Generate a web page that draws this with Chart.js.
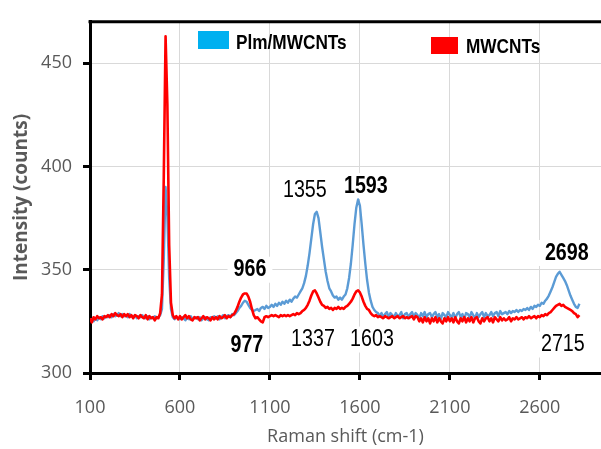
<!DOCTYPE html>
<html>
<head>
<meta charset="utf-8">
<title>Raman spectra</title>
<script src="https://cdn.jsdelivr.net/npm/chart.js@4.4.1/dist/chart.umd.min.js"></script>
<style>
  html, body { margin: 0; padding: 0; background: #fff; }
  canvas { display: block; }
</style>
</head>
<body>
<canvas id="ramanChart" width="601" height="449"></canvas>
<script>
// Raman shift (cm-1), one point every 10 cm-1
const ramanShift = [
  100, 110, 120, 130, 140, 150, 160, 170, 180, 190,
  200, 210, 220, 230, 240, 250, 260, 270, 280, 290,
  300, 310, 320, 330, 340, 350, 360, 370, 380, 390,
  400, 410, 420, 430, 440, 450, 460, 470, 480, 490,
  500, 510, 520, 530, 540, 550, 560, 570, 580, 590,
  600, 610, 620, 630, 640, 650, 660, 670, 680, 690,
  700, 710, 720, 730, 740, 750, 760, 770, 780, 790,
  800, 810, 820, 830, 840, 850, 860, 870, 880, 890,
  900, 910, 920, 930, 940, 950, 960, 970, 980, 990,
  1000, 1010, 1020, 1030, 1040, 1050, 1060, 1070, 1080, 1090,
  1100, 1110, 1120, 1130, 1140, 1150, 1160, 1170, 1180, 1190,
  1200, 1210, 1220, 1230, 1240, 1250, 1260, 1270, 1280, 1290,
  1300, 1310, 1320, 1330, 1340, 1350, 1360, 1370, 1380, 1390,
  1400, 1410, 1420, 1430, 1440, 1450, 1460, 1470, 1480, 1490,
  1500, 1510, 1520, 1530, 1540, 1550, 1560, 1570, 1580, 1590,
  1600, 1610, 1620, 1630, 1640, 1650, 1660, 1670, 1680, 1690,
  1700, 1710, 1720, 1730, 1740, 1750, 1760, 1770, 1780, 1790,
  1800, 1810, 1820, 1830, 1840, 1850, 1860, 1870, 1880, 1890,
  1900, 1910, 1920, 1930, 1940, 1950, 1960, 1970, 1980, 1990,
  2000, 2010, 2020, 2030, 2040, 2050, 2060, 2070, 2080, 2090,
  2100, 2110, 2120, 2130, 2140, 2150, 2160, 2170, 2180, 2190,
  2200, 2210, 2220, 2230, 2240, 2250, 2260, 2270, 2280, 2290,
  2300, 2310, 2320, 2330, 2340, 2350, 2360, 2370, 2380, 2390,
  2400, 2410, 2420, 2430, 2440, 2450, 2460, 2470, 2480, 2490,
  2500, 2510, 2520, 2530, 2540, 2550, 2560, 2570, 2580, 2590,
  2600, 2610, 2620, 2630, 2640, 2650, 2660, 2670, 2680, 2690,
  2700, 2710, 2720, 2730, 2740, 2750, 2760, 2770, 2780, 2790,
  2800, 2810, 2820
];

// Plm/MWCNTs intensity (counts)
const plmMwcnts = [
  325.5, 326, 325, 326.5, 325.5, 327, 326, 327.5, 326.5, 327.5,
  327, 328, 327, 328.5, 327.5, 328, 329, 327.5, 328.5, 327.5,
  328, 327, 328.5, 327.5, 327, 328, 326.5, 327.5, 327, 328,
  327, 326.5, 327.5, 326, 327, 326.5, 327.5, 326.5, 327, 328,
  331, 355, 390, 376, 346, 331, 327, 326, 327, 326.5,
  326, 327, 326.5, 325.5, 327, 326, 327.5, 326, 326.5, 327,
  326, 327, 325.5, 326.5, 327, 326, 325.5, 327, 326.5, 327.5,
  326.5, 327.5, 326, 327, 328, 326.5, 327.5, 328, 327, 328.5,
  328, 329, 330, 331.5, 332.5, 334, 335, 334.5, 333, 331.5,
  330.5, 330, 330.5, 331, 330, 331.5, 332, 331, 332.5, 331.5,
  332, 333, 332, 333.5, 332.5, 334, 333, 334.5, 333.5, 335,
  334, 335.5, 334.5, 336, 337, 336.5, 338, 339.5, 341, 343.5,
  347, 352, 358, 365, 372, 377, 378, 375, 368, 361,
  355, 349, 344.5, 341, 339.5, 337.5, 336.5, 337, 335.5, 336.5,
  335.5, 337, 338, 341, 346, 353, 362, 372, 380, 384,
  381, 372, 362, 353, 345, 339, 335, 332, 330.5, 329.5,
  329, 327.5, 329, 327, 328.5, 329.5, 327, 329, 328, 327,
  329, 327.5, 328, 329.5, 326.5, 328.5, 329, 327, 328.5, 329.5,
  327, 329, 328, 326.5, 329, 327.5, 329.5, 327, 328.5, 329,
  327, 328.5, 329.5, 327, 328.5, 326, 329, 328, 327, 329.5,
  328, 327, 329, 326.5, 328.5, 329.5, 327, 328.5, 326, 329,
  328.5, 327, 329.5, 328, 326.5, 329, 327, 328.5, 329.5, 327,
  329, 327.5, 328, 329.5, 327.5, 329, 329.5, 327.5, 330, 328.5,
  329, 329.5, 328.5, 330, 329, 330, 329.5, 330.5, 329.5, 330.5,
  330, 331, 330.5, 331.5, 330.5, 332, 331, 332.5, 332, 333,
  332.5, 334, 333.5, 335, 336, 337.5, 339.5, 341.5, 344, 346.5,
  348, 349, 347.5, 346, 344.5, 342.5, 340, 337.5, 335.5, 333.5,
  332, 331.5, 333.5
];

// MWCNTs intensity (counts)
const mwcnts = [
  326.5, 324.5, 327, 326, 327.5, 326.5, 327, 326, 327.5, 327,
  328, 327, 328.5, 327.5, 329, 328, 327.5, 328.5, 327, 328.5,
  327.5, 328.5, 327, 328, 326.5, 328, 327.5, 326.5, 328, 327,
  326.5, 328, 326, 327.5, 326.5, 327, 325.5, 327, 326.5, 329,
  338, 395, 463, 430, 362, 334, 328, 326.5, 327.5, 326,
  327.5, 326, 327, 328, 326.5, 327.5, 326, 325.5, 327, 326.5,
  327, 325.5, 326.5, 327.5, 326, 327, 326.5, 325.5, 327, 326,
  327, 326, 327.5, 326.5, 327, 328, 326.5, 327.5, 327, 328,
  328.5, 330, 332, 334.5, 336.5, 338, 338.5, 338.5, 337, 334.5,
  331, 328, 326.5, 327, 326, 325, 324.5, 327, 327.5, 327,
  327.5, 328, 327.5, 328, 327.5, 327, 328, 327.5, 328, 327.5,
  328, 327.5, 328, 328.5, 328, 329, 328.5, 329, 330, 330.5,
  331.5, 333, 335, 337.5, 339.5, 340, 338.5, 336.5, 334.5, 333,
  332.5, 331.5, 332, 331, 331.5, 330.5, 331.5, 331, 332, 331,
  331.5, 331, 332, 332.5, 333.5, 334.5, 336, 338, 339.5, 340,
  339, 337, 334.5, 332.5, 331, 330.5, 329, 328, 327.5, 328,
  327, 327.5, 327, 326.5, 327.5, 327, 326.5, 327, 327.5, 326.5,
  327, 327.5, 326.5, 327, 327.5, 326.5, 327, 326.5, 327, 327.5,
  326, 327.5, 327, 325, 326.5, 324.5, 327, 325, 326.5, 324,
  326.5, 325, 327, 324.5, 326.5, 325, 324, 326.5, 325, 327,
  325, 326.5, 324.5, 327, 325, 324, 326.5, 325, 327, 324.5,
  326.5, 325, 327, 324.5, 326.5, 327, 325, 324, 326.5, 325,
  326.5, 327, 325, 326.5, 324.5, 327, 326, 325, 327, 325.5,
  326.5, 325.5, 326, 327, 325, 326.5, 326, 327, 326, 326.5,
  327, 326, 327, 326.5, 327.5, 326.5, 327, 327.5, 326.5, 327.5,
  327, 328, 327.5, 328.5, 328, 329, 329.5, 330.5, 331.5, 332.5,
  333, 333.5, 332.5, 333, 332, 331.5, 331, 330.5, 330, 329,
  328.5, 327, 328
];

const xTicks = [100, 600, 1100, 1600, 2100, 2600];
const yTicks = [300, 350, 400, 450];

// peak labels, anchored in data units (shift, counts)
const peakLabels = [
  { text: '966',  x: 989,  y: 350,   bold: true },
  { text: '977',  x: 972,  y: 313.3, bold: true },
  { text: '1355', x: 1294, y: 388.6, bold: false },
  { text: '1593', x: 1633, y: 390.5, bold: true },
  { text: '1337', x: 1339, y: 316.2, bold: false },
  { text: '1603', x: 1667, y: 316.2, bold: false },
  { text: '2698', x: 2750, y: 358.1, bold: true },
  { text: '2715', x: 2728, y: 313.8, bold: false }
];

const axisGray = '#595959';
const gridGray = '#d9d9d9';
const tickFont = { family: 'Open Sans', size: 18 };
const labelFamily = '"Liberation Sans", Arial, sans-serif';
const narrow = 0.82; // squeeze Arial into an Arial Narrow look

function toPoints(ys) {
    return ys.map((v, i) => ({ x: ramanShift[i], y: v }));
}

function narrowText(ctx, text, px, py) {
    ctx.save();
    ctx.translate(px, py);
    ctx.scale(narrow, 1);
    ctx.fillText(text, 0, 0);
    ctx.restore();
}

const decorPlugin = {
    id: 'decor',
    beforeDatasetsDraw(chart) {
        // white text boxes behind the peak labels hide the grid, like in the original
        const { ctx, scales: { x, y } } = chart;
        ctx.save();
        ctx.fillStyle = '#fff';
        peakLabels.forEach(p => {
            ctx.font = `${p.bold ? 'bold ' : ''}24px ${labelFamily}`;
            const w = ctx.measureText(p.text).width * narrow;
            const cx = x.getPixelForValue(p.x);
            const cy = y.getPixelForValue(p.y);
            ctx.fillRect(cx - w / 2 - 6, cy - 13, w + 12, 26);
        });
        ctx.restore();
    },
    afterDraw(chart) {
        const { ctx, chartArea, scales: { x, y } } = chart;
        ctx.save();

        // top frame line
        ctx.strokeStyle = '#000';
        ctx.lineWidth = 3;
        ctx.beginPath();
        ctx.moveTo(chartArea.left - 1.5, chartArea.top);
        ctx.lineTo(chartArea.right, chartArea.top);
        ctx.stroke();

        // peak labels
        ctx.fillStyle = '#000';
        ctx.textAlign = 'center';
        ctx.textBaseline = 'middle';
        peakLabels.forEach(p => {
            ctx.font = `${p.bold ? 'bold ' : ''}24px ${labelFamily}`;
            narrowText(ctx, p.text, x.getPixelForValue(p.x), y.getPixelForValue(p.y));
        });

        // legend entries, placed freely as in the original
        ctx.textAlign = 'left';
        ctx.textBaseline = 'alphabetic';
        ctx.font = `bold 21px ${labelFamily}`;
        ctx.fillStyle = '#00B0F0';
        ctx.fillRect(198, 31, 31, 18);
        ctx.fillStyle = '#000';
        narrowText(ctx, 'Plm/MWCNTs', 236, 49);
        ctx.fillStyle = '#FF0000';
        ctx.fillRect(431, 37, 27, 17);
        ctx.fillStyle = '#000';
        narrowText(ctx, 'MWCNTs', 466, 53);

        ctx.restore();
    }
};

const ctx = document.getElementById('ramanChart').getContext('2d');
const ramanChart = new Chart(ctx, {
    type: 'line',
    data: {
        datasets: [
            {
                label: 'MWCNTs',
                data: toPoints(mwcnts),
                borderColor: '#FF0000',
                borderWidth: 2.6,
                pointRadius: 0,
                borderJoinStyle: 'round',
                tension: 0
            },
            {
                label: 'Plm/MWCNTs',
                data: toPoints(plmMwcnts),
                borderColor: '#5B9BD5',
                borderWidth: 2.4,
                pointRadius: 0,
                borderJoinStyle: 'round',
                tension: 0
            }
        ]
    },
    options: {
        responsive: false,
        devicePixelRatio: 1,
        animation: false,
        layout: { padding: { top: 16, right: 0, left: 0, bottom: 0 } },
        plugins: {
            legend: { display: false },
            tooltip: { enabled: false }
        },
        scales: {
            x: {
                type: 'linear',
                min: 100,
                max: 2940,
                afterFit: scale => { scale.height = 76; },
                afterBuildTicks: scale => { scale.ticks = xTicks.map(v => ({ value: v })); },
                grid: {
                    color: gridGray,
                    lineWidth: 1,
                    tickLength: 7,
                    tickColor: '#000',
                    tickWidth: 3
                },
                border: { display: true, color: '#000', width: 3 },
                ticks: {
                    color: axisGray,
                    font: tickFont,
                    padding: 17,
                    maxRotation: 0,
                    callback: v => String(v)
                },
                title: {
                    display: true,
                    text: 'Raman shift (cm-1)',
                    color: axisGray,
                    font: { family: 'Open Sans', size: 18 },
                    padding: { top: 0, bottom: 1 }
                }
            },
            y: {
                min: 300,
                max: 470,
                afterFit: scale => { scale.width = 90; },
                afterBuildTicks: scale => { scale.ticks = yTicks.map(v => ({ value: v })); },
                grid: {
                    color: gridGray,
                    lineWidth: 1,
                    tickLength: 7,
                    tickColor: '#000',
                    tickWidth: 3
                },
                border: { display: true, color: '#000', width: 3 },
                ticks: {
                    color: axisGray,
                    font: tickFont,
                    padding: 11,
                    callback: v => String(v)
                },
                title: {
                    display: true,
                    text: 'Intensity (counts)',
                    color: axisGray,
                    font: { family: 'Open Sans', size: 19, weight: 'bold' },
                    padding: { top: 10, bottom: 0 }
                }
            }
        }
    },
    plugins: [decorPlugin]
});
</script>
</body>
</html>
